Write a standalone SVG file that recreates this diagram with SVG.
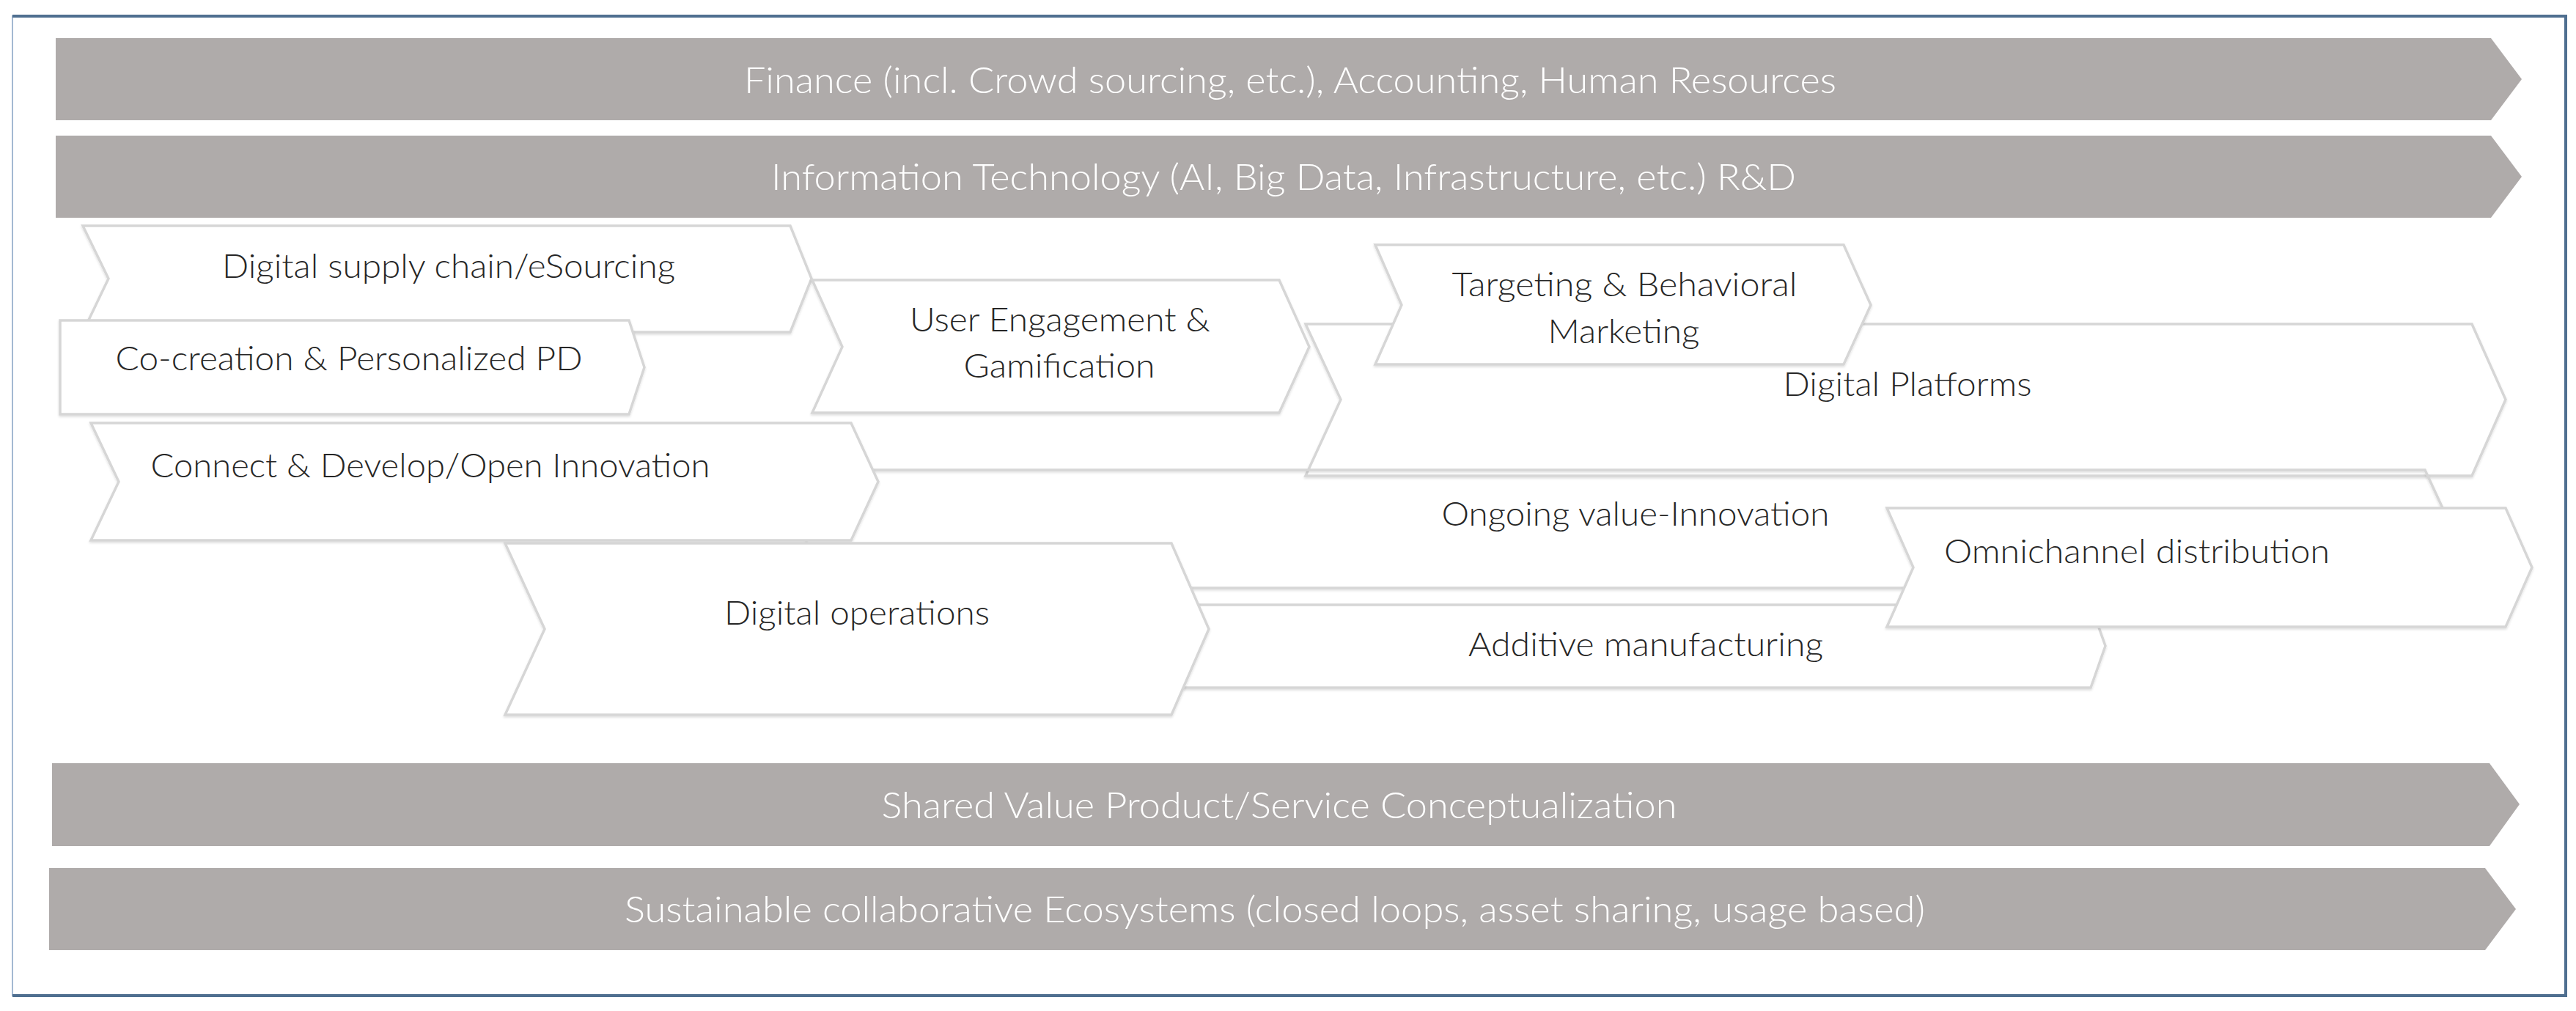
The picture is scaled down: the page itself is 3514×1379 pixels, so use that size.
<svg xmlns="http://www.w3.org/2000/svg" width="3514" height="1379" viewBox="0 0 3514 1379">
  <style>
    .bar { fill: #afabaa; }
    .bt { font-family: Lato, "Open Sans", "Liberation Sans", sans-serif; font-weight: 300; font-size: 50px; fill: #ffffff; text-anchor: middle; }
    .chev { fill: #ffffff; stroke: #d6d6d6; stroke-width: 3.5; stroke-linejoin: miter; filter: url(#sh); }
    .hollow { fill: none; stroke: #d6d6d6; stroke-width: 3.5; filter: url(#sh); }
    .ct { font-family: Lato, "Open Sans", "Liberation Sans", sans-serif; font-weight: 300; font-size: 46px; fill: #262626; text-anchor: middle; }
  </style>
  <defs>
    <filter id="sh" x="-2%" y="-10%" width="104%" height="125%">
      <feDropShadow dx="0" dy="2" stdDeviation="1.5" flood-color="#000000" flood-opacity="0.12"/>
    </filter>
  </defs>
  <rect x="0" y="0" width="3514" height="1379" fill="#ffffff"/>
  <g id="frame">
    <rect x="17" y="22" width="3483" height="1336" fill="none" stroke="#a3b9d2" stroke-width="2"/>
    <path d="M17,22 H3500 V1358 H17" fill="none" stroke="#4f6f90" stroke-width="4"/>
  </g>

  <g id="bar-finance">
    <polygon class="bar" points="76,52 3398,52 3440,108 3398,164 76,164"/>
    <text class="bt" x="1760" y="127" textLength="1490" lengthAdjust="spacingAndGlyphs">Finance (incl. Crowd sourcing, etc.), Accounting, Human Resources</text>
  </g>
  <g id="bar-it">
    <polygon class="bar" points="76,185 3398,185 3440,241 3398,297 76,297"/>
    <text class="bt" x="1751" y="259" textLength="1398" lengthAdjust="spacingAndGlyphs">Information Technology (AI, Big Data, Infrastructure, etc.) R&amp;D</text>
  </g>

  <g id="node-dsc">
    <polygon class="chev" points="113,308 1078,308 1107,380 1078,453 113,453 148,380"/>
    <text class="ct" x="612" y="379" textLength="618" lengthAdjust="spacingAndGlyphs">Digital supply chain/eSourcing</text>
  </g>
  <g id="node-cc">
    <polygon class="chev" points="82,437 858,437 879,501 858,565 82,565"/>
    <text class="ct" x="476" y="505" textLength="637" lengthAdjust="spacingAndGlyphs">Co-creation &amp; Personalized PD</text>
  </g>
  <g id="node-ue">
    <polygon class="chev" points="1108,382 1745,382 1786,473 1745,563 1108,563 1149,473"/>
    <text class="ct" x="1446" y="452" textLength="410" lengthAdjust="spacingAndGlyphs">User Engagement &amp;</text>
    <text class="ct" x="1445" y="515" textLength="261" lengthAdjust="spacingAndGlyphs">Gamification</text>
  </g>
  <g id="node-dp">
    <polygon class="chev" points="1781,442 3372,442 3418,545 3372,649 1781,649 1829,545"/>
    <text class="ct" x="2602" y="540" textLength="339" lengthAdjust="spacingAndGlyphs">Digital Platforms</text>
  </g>
  <g id="node-tb">
    <polygon class="chev" points="1876,334 2515,334 2552,416 2515,497 1876,497 1912,416"/>
    <text class="ct" x="2216" y="404" textLength="471" lengthAdjust="spacingAndGlyphs">Targeting &amp; Behavioral</text>
    <text class="ct" x="2215" y="468" textLength="207" lengthAdjust="spacingAndGlyphs">Marketing</text>
  </g>
  <g id="node-ov">
    <polygon class="hollow" points="1100,641 3308,641 3345,721 3308,802 1100,802"/>
    <text class="ct" x="2231" y="717" textLength="529" lengthAdjust="spacingAndGlyphs">Ongoing value-Innovation</text>
  </g>
  <g id="node-cd">
    <polygon class="chev" points="124,577 1161,577 1198,657 1161,737 124,737 162,657"/>
    <text class="ct" x="587" y="651" textLength="763" lengthAdjust="spacingAndGlyphs">Connect &amp; Develop/Open Innovation</text>
  </g>
  <g id="node-am">
    <polygon class="chev" points="1400,825 2852,825 2872,881 2852,938 1400,938"/>
    <text class="ct" x="2245" y="895" textLength="484" lengthAdjust="spacingAndGlyphs">Additive manufacturing</text>
  </g>
  <g id="node-do">
    <polygon class="chev" points="689,741 1598,741 1649,858 1598,975 689,975 743,858"/>
    <text class="ct" x="1169" y="852" textLength="362" lengthAdjust="spacingAndGlyphs">Digital operations</text>
  </g>
  <g id="node-oc">
    <polygon class="chev" points="2574,693 3418,693 3454,774 3418,855 2574,855 2610,774"/>
    <text class="ct" x="2915" y="768" textLength="526" lengthAdjust="spacingAndGlyphs">Omnichannel distribution</text>
  </g>

  <g id="bar-shared">
    <polygon class="bar" points="71,1041 3396,1041 3437,1097 3396,1154 71,1154"/>
    <text class="bt" x="1745" y="1116" textLength="1085" lengthAdjust="spacingAndGlyphs">Shared Value Product/Service Conceptualization</text>
  </g>
  <g id="bar-eco">
    <polygon class="bar" points="67,1184 3390,1184 3432,1240 3390,1296 67,1296"/>
    <text class="bt" x="1739" y="1258" textLength="1774" lengthAdjust="spacingAndGlyphs">Sustainable collaborative Ecosystems (closed loops, asset sharing, usage based)</text>
  </g>
  <g id="connectors"></g>
</svg>
